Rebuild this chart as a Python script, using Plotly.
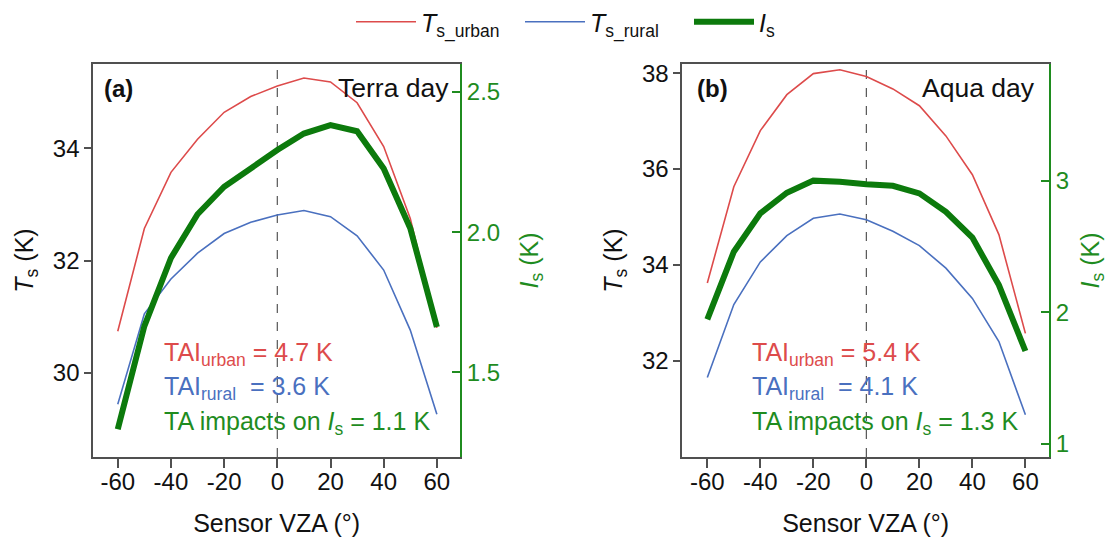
import plotly.graph_objects as go

# ---------------- data ----------------
vza = [-60, -50, -40, -30, -20, -10, 0, 10, 20, 30, 40, 50, 60]

ts_urban_terra = [30.74, 32.57, 33.57, 34.16, 34.64, 34.92, 35.11, 35.25, 35.18, 34.81, 34.03, 32.75, 30.80]
ts_rural_terra = [29.44, 31.05, 31.67, 32.13, 32.48, 32.68, 32.81, 32.89, 32.78, 32.44, 31.83, 30.76, 29.26]
is_terra = [1.297, 1.665, 1.908, 2.064, 2.162, 2.230, 2.293, 2.352, 2.382, 2.360, 2.227, 2.014, 1.662]

ts_urban_aqua = [33.62, 35.63, 36.80, 37.55, 37.99, 38.07, 37.93, 37.67, 37.32, 36.69, 35.88, 34.63, 32.57]
ts_rural_aqua = [31.65, 33.17, 34.06, 34.61, 34.97, 35.06, 34.94, 34.70, 34.40, 33.93, 33.30, 32.40, 30.87]
is_aqua = [1.947, 2.462, 2.754, 2.911, 3.003, 2.995, 2.975, 2.964, 2.906, 2.766, 2.569, 2.208, 1.706]

x_ticks = [-60, -40, -20, 0, 20, 40, 60]
x_ticklabels = ["-60", "-40", "-20", "0", "20", "40", "60"]
ts_ticks_terra = [30, 32, 34]
is_ticks_terra = [1.5, 2.0, 2.5]
ts_ticks_aqua = [32, 34, 36, 38]
is_ticks_aqua = [1, 2, 3]

panel_labels = ["(a)", "(b)"]
panel_titles = ["Terra day", "Aqua day"]
tai_urban = ["4.7", "5.4"]
tai_rural = ["3.6", "4.1"]
ta_impact = ["1.1", "1.3"]
ref_vza = 0

# ---------------- styling ----------------
RED = "#DD4B4B"
BLUE = "#4A70BF"
GREEN_LINE = "#0C7A0C"
GREEN = "#1F8C1F"
FRAME = "#505050"
FONT = "Liberation Sans, Arial, sans-serif"

W, H = 1108, 540
L, R, T, B = 93, 59, 64, 83
PW, PH = W - L - R, H - T - B


def px(xp):
    return (xp - L) / PW


def py(yp):
    return (H - B - yp) / PH


fig = go.Figure()

panels = [
    dict(x="x", yl="y", yr="y2", u=ts_urban_terra, r=ts_rural_terra, i=is_terra),
    dict(x="x2", yl="y3", yr="y4", u=ts_urban_aqua, r=ts_rural_aqua, i=is_aqua),
]
for k, p in enumerate(panels):
    show = k == 0
    fig.add_trace(go.Scatter(x=vza, y=p["u"], xaxis=p["x"], yaxis=p["yl"], mode="lines",
                             line=dict(color=RED, width=1.6), name="<i>T</i><sub>s_urban</sub>",
                             showlegend=show))
    fig.add_trace(go.Scatter(x=vza, y=p["r"], xaxis=p["x"], yaxis=p["yl"], mode="lines",
                             line=dict(color=BLUE, width=1.6), name="<i>T</i><sub>s_rural</sub>",
                             showlegend=show))
    fig.add_trace(go.Scatter(x=vza, y=p["i"], xaxis=p["x"], yaxis=p["yr"], mode="lines",
                             line=dict(color=GREEN_LINE, width=6), name="<i>I</i><sub>s</sub>",
                             showlegend=show))

tickfont = dict(family=FONT, size=24, color="#111")
gtickfont = dict(family=FONT, size=24, color=GREEN)
titlefont = dict(family=FONT, size=25, color="#111")
gtitlefont = dict(family=FONT, size=25, color=GREEN)

xcommon = dict(tickmode="array", tickvals=x_ticks, ticktext=x_ticklabels, ticks="outside",
               ticklen=9, tickwidth=1.5, ticklabelstandoff=-7,
               tickcolor=FRAME, showline=True, linecolor=FRAME, linewidth=2, mirror=True,
               showgrid=False, zeroline=False, tickfont=tickfont,
               title=dict(text="Sensor VZA (°)", font=titlefont, standoff=21))
ylcommon = dict(ticks="outside", ticklen=7, tickwidth=1.5, tickcolor=FRAME, showline=True,
                linecolor=FRAME, linewidth=2, showgrid=False, zeroline=False, tickfont=tickfont,
                tickmode="array")
yrcommon = dict(ticks="inside", ticklen=8, tickwidth=1.5, tickcolor=GREEN, showline=True,
                linecolor=GREEN, linewidth=2, showgrid=False, zeroline=False, tickfont=gtickfont,
                side="right", tickmode="array")

fig.update_layout(
    width=W, height=H,
    margin=dict(l=L, r=R, t=T, b=B, autoexpand=False),
    paper_bgcolor="white", plot_bgcolor="white",
    font=dict(family=FONT, size=24, color="#111"),
    xaxis=dict(domain=[px(93.3), px(460)], range=[-69.2, 68.7], anchor="y", **xcommon),
    xaxis2=dict(domain=[px(682.4), px(1049)], range=[-69.4, 68.9], anchor="y3", **xcommon),
    yaxis=dict(domain=[0, 1], range=[28.5, 35.5], anchor="x", tickvals=ts_ticks_terra,
               title=dict(text="<i>T</i><sub>s</sub> (K)", font=titlefont, standoff=12),
               **ylcommon),
    yaxis2=dict(range=[1.198, 2.60], overlaying="y", anchor="x", tickvals=is_ticks_terra,
                tickformat=".1f",
                title=dict(text="<i>I</i><sub>s</sub> (K)", font=gtitlefont, standoff=21),
                **yrcommon),
    yaxis3=dict(domain=[0, 1], range=[29.99, 38.19], anchor="x2", tickvals=ts_ticks_aqua,
                title=dict(text="<i>T</i><sub>s</sub> (K)", font=titlefont, standoff=12),
                **ylcommon),
    yaxis4=dict(range=[0.899, 3.891], overlaying="y3", anchor="x2", tickvals=is_ticks_aqua,
                title=dict(text="<i>I</i><sub>s</sub> (K)", font=gtitlefont, standoff=30),
                **yrcommon),
    legend=dict(orientation="h", xref="paper", yref="paper", x=px(351), xanchor="left",
                y=py(22), yanchor="middle", font=dict(family=FONT, size=25, color="#111"),
                bgcolor="rgba(0,0,0,0)", entrywidth=94, entrywidthmode="pixels",
                itemwidth=60, tracegroupgap=0),
    showlegend=True,
)

# vertical dashed reference line
for xr, yr in [("x", "y domain"), ("x2", "y3 domain")]:
    fig.add_shape(type="line", xref=xr, yref=yr, x0=ref_vza, x1=ref_vza, y0=0, y1=1,
                  line=dict(color="#555", width=1.2, dash="dash"), layer="below")

# panel labels / titles
lab_pos = [(101.7, 451), (695, 1037)]
for k in range(2):
    lx, rx = lab_pos[k]
    fig.add_annotation(xref="paper", yref="paper", x=px(lx), y=py(88), xanchor="left",
                       yanchor="middle", text="<b>" + panel_labels[k] + "</b>", showarrow=False,
                       font=dict(family=FONT, size=24, color="#111"))
    fig.add_annotation(xref="paper", yref="paper", x=px(rx), y=py(88), xanchor="right",
                       yanchor="middle", text=panel_titles[k], showarrow=False,
                       font=dict(family=FONT, size=26.5, color="#111"))

text_left = [161.7, 750]
for k in range(2):
    lx = text_left[k]
    fig.add_annotation(xref="paper", yref="paper", x=px(lx), y=py(354), xanchor="left",
                       yanchor="middle", showarrow=False,
                       text="TAI<sub>urban</sub> = " + tai_urban[k] + " K",
                       font=dict(family=FONT, size=25, color=RED))
    fig.add_annotation(xref="paper", yref="paper", x=px(lx), y=py(388), xanchor="left",
                       yanchor="middle", showarrow=False,
                       text="TAI<sub>rural</sub>&nbsp; = " + tai_rural[k] + " K",
                       font=dict(family=FONT, size=25, color=BLUE))
    fig.add_annotation(xref="paper", yref="paper", x=px(lx), y=py(423), xanchor="left",
                       yanchor="middle", showarrow=False,
                       text="TA impacts on <i>I</i><sub>s</sub> = " + ta_impact[k] + " K",
                       font=dict(family=FONT, size=25, color=GREEN))

fig.write_html("out.html")
